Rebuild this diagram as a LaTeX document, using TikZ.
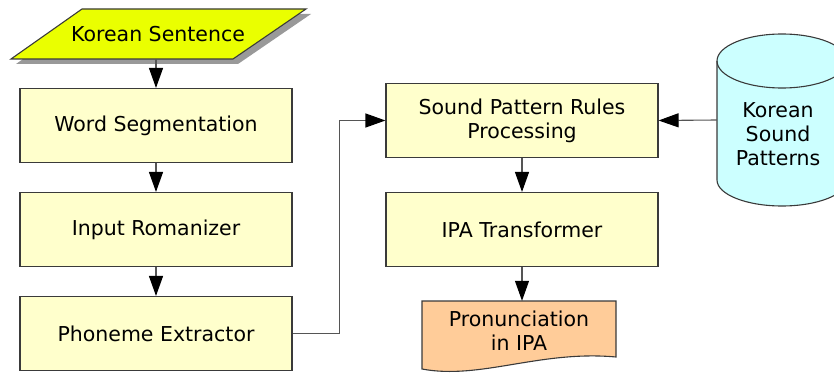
\documentclass[tikz,border=0pt]{standalone}
\usepackage{fontspec}
\setmainfont{DejaVu Sans}
\usetikzlibrary{arrows.meta}
\definecolor{boxfill}{HTML}{FFFFCC}
\definecolor{boxline}{HTML}{3A3A3A}
\definecolor{conline}{HTML}{555555}
\definecolor{startfill}{HTML}{EAFF00}
\definecolor{docfill}{HTML}{FFCC99}
\definecolor{dbfill}{HTML}{CCFFFF}
\definecolor{shadowc}{HTML}{999999}
\begin{document}
\begin{tikzpicture}[x=1pt,y=-1pt,
  every node/.style={font=\fontsize{20.5}{24}\selectfont, align=center, inner sep=0pt},
  procbox/.style={draw=boxline, fill=boxfill, line width=1.1pt, minimum width=272pt, minimum height=74pt},
  shapeline/.style={draw=boxline, line width=1.1pt},
  conn/.style={draw=conline, line width=1.1pt, -{Triangle[length=20pt,width=14pt,color=black]}},
  ghost/.style={draw=none, fill=none}
]
\useasboundingbox (0,0) rectangle (834,374);

% start parallelogram with shadow
\fill[shadowc] (87,14) -- (311,14) -- (238,64) -- (16,64) -- cycle;
\path[shapeline, fill=startfill] (82,9) -- (306,9) -- (233,59) -- (11,59) -- cycle;
\node[ghost, minimum width=222pt, minimum height=50pt] (ks) at (156,34) {};
\node at (158,34) {Korean Sentence};

% left column
\node[procbox] (ws) at (156,125.5) {Word Segmentation};
\node[procbox] (ir) at (156,229.5) {Input Romanizer};
\node[procbox] (pe) at (156,333.5) {Phoneme Extractor};

% right column
\node[procbox] (sp) at (522,120.5) {Sound Pattern Rules\\Processing};
\node[procbox] (ipa) at (522,229.5) {IPA Transformer};

% document
\path[shapeline, fill=docfill] (422,301) -- (616,301) -- (616,357)
  .. controls (540,350) and (480,380) .. (422,369) -- cycle;
\node[ghost, minimum width=194pt, minimum height=60pt] (pr) at (519,331) {};
\node at (519,331) {Pronunciation\\in IPA};

% cylinder
\path[shapeline, fill=dbfill] (717,61) -- (717,180)
  arc[start angle=180, end angle=360, x radius=65, y radius=-26]
  -- (847,61) arc[start angle=0, end angle=180, x radius=65, y radius=-27] -- cycle;
\draw[shapeline] (717,61) arc[start angle=180, end angle=360, x radius=65, y radius=-27];
\node[ghost, minimum width=130pt, minimum height=171pt] (db) at (782,120) {};
\node at (778,134) {Korean\\Sound\\Patterns};

% connectors
\draw[conn] (ks.south) -- (ws.north);
\draw[conn] (ws.south) -- (ir.north);
\draw[conn] (ir.south) -- (pe.north);
\draw[conn] (pe.east) -- ++(47,0) |- (sp.west);
\draw[conn] (db.west) -- (sp.east);
\draw[conn] (sp.south) -- (ipa.north);
\draw[conn] (ipa.south) -- (ipa.south |- pr.north);
\end{tikzpicture}
\end{document}
